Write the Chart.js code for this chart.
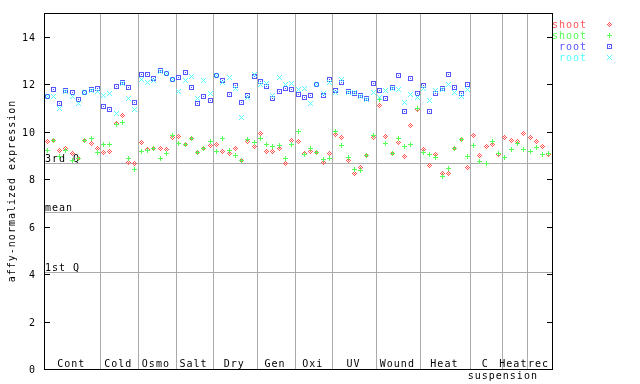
<!DOCTYPE html>
<html>
<head>
<meta charset="utf-8">
<script src="https://cdn.jsdelivr.net/npm/chart.js@4"></script>
<style>
  html, body { margin: 0; padding: 0; background: #fff; }
</style>
</head>
<body>
<canvas id="chart" width="640" height="384"></canvas>
<script>
// Groups along the x axis and how many samples each one holds
const groups     = ['Cont', 'Cold', 'Osmo', 'Salt', 'Dry', 'Gen', 'Oxi', 'UV', 'Wound', 'Heat', 'C', 'Heat', 'rec'];
const groupSizes = [9, 6, 6, 6, 7, 6, 6, 7, 7, 8, 5, 4, 4];
const subLabel   = 'suspension';   // second line under "C"

const yTicks     = [0, 2, 4, 6, 8, 10, 12, 14];
const statValues = [8.68, 6.61, 4.08];
const statLabels = ['3rd Q', 'mean', '1st Q'];

const seriesNames  = ['shoot', 'shoot', 'root', 'root'];
const seriesColors = ['#ff5555', '#55ff55', '#5555ff', '#55ffff'];

const shootRed = [
  9.59, 9.64, 9.19, 9.30, 9.07, 8.86, 9.64, 9.51, 9.27,
  9.13, 9.17, 10.33, 10.69, 8.71, 8.67,
  9.55, 9.26, 9.30, 9.30, 9.26, 9.76,
  9.81, 9.47, 9.72, 9.13, 9.30, 9.43,
  9.47, 9.17, 9.09, 9.30, 8.79, 9.59, 9.39,
  9.93, 9.17, 9.17, 9.30, 8.67, 9.64,
  9.59, 9.09, 9.17, 9.13, 8.71, 9.09,
  9.89, 9.76, 8.79, 8.25, 8.50, 9.00, 9.76,
  11.11, 9.81, 9.09, 9.55, 8.96, 10.27, 10.95,
  9.26, 8.58, 9.05, 8.25, 8.25, 9.30, 9.68, 8.50,
  9.85, 9.00, 9.39, 9.47, 9.05,
  9.76, 9.64, 9.59, 9.93,
  9.76, 9.59, 9.39, 9.05
];
const shootGreen = [
  9.19, 9.64, 8.95, 9.20, 8.79, 8.86, 9.64, 9.73, 9.12,
  9.47, 9.47, 10.29, 10.40, 8.88, 8.41,
  9.17, 9.22, 9.30, 8.88, 9.09, 9.85,
  9.51, 9.47, 9.72, 9.13, 9.30, 9.59,
  9.17, 9.72, 9.22, 9.00, 8.79, 9.68, 9.55,
  9.72, 9.47, 9.39, 9.43, 8.88, 9.47,
  10.01, 9.05, 9.30, 9.13, 8.84, 8.88,
  10.01, 9.43, 8.92, 8.41, 8.37, 9.00, 9.85,
  11.37, 9.51, 9.09, 9.72, 9.39, 9.47, 10.99,
  9.13, 9.05, 8.92, 8.12, 8.46, 9.30, 9.68, 8.96,
  9.43, 8.75, 8.67, 9.59, 9.09,
  8.92, 9.26, 9.51, 9.26,
  9.17, 9.34, 9.05, 9.09
];
const rootBlue = [
  11.49, 11.79, 11.20, 11.74, 11.66, 11.37, 11.66, 11.79, 11.83,
  11.07, 10.94, 11.91, 12.08, 11.87, 11.24,
  12.42, 12.42, 12.25, 12.59, 12.46, 12.21,
  12.29, 12.50, 11.87, 11.20, 11.49, 11.32,
  12.37, 12.17, 11.58, 11.96, 11.24, 11.53, 12.33,
  12.12, 11.91, 11.41, 11.70, 11.83, 11.79,
  11.58, 11.45, 11.53, 12.00, 11.53, 12.21,
  11.74, 12.08, 11.70, 11.62, 11.53, 11.41, 12.04,
  11.74, 11.41, 11.87, 12.37, 10.86, 12.25, 11.62,
  11.96, 10.86, 11.62, 11.83, 12.42, 11.87, 11.62, 12.00,
  null, null, null, null, null,
  null, null, null, null,
  null, null, null, null
];
const rootCyan = [
  11.49, 11.49, 10.99, 11.70, 11.49, 11.20, 11.66, 11.74, 11.70,
  11.53, 11.62, 10.77, 12.04, 11.41, 10.94,
  12.21, 12.08, 12.17, 12.55, 12.46, 12.21,
  11.70, 12.17, 12.33, 11.41, 12.17, 11.62,
  12.37, 12.08, 12.29, 11.83, 10.61, 11.45, 12.42,
  12.00, 12.04, 11.53, 12.29, 12.00, 12.04,
  11.79, 11.83, 11.20, 12.00, 11.62, 12.08,
  11.66, 12.21, 11.66, 11.66, 11.49, 11.37, 11.66,
  11.45, 11.74, 11.83, 11.79, 11.24, 11.58, 11.45,
  11.83, 11.32, 11.74, 11.79, 12.00, 11.66, 11.49, 11.79,
  null, null, null, null, null,
  null, null, null, null,
  null, null, null, null
];

// little pixel markers like the original bitmap plot
function marker(rows, color) {
  const c = document.createElement('canvas');
  c.width = rows[0].length;
  c.height = rows.length;
  const g = c.getContext('2d');
  g.fillStyle = color;
  rows.forEach((r, y) => [...r].forEach((ch, x) => { if (ch === '#') g.fillRect(x, y, 1, 1); }));
  return c;
}
const markers = [
  marker(['..#..', '.#.#.', '#.#.#', '.#.#.', '..#..'], seriesColors[0]),
  marker(['..#..', '..#..', '#####', '..#..', '..#..'], seriesColors[1]),
  marker(['#####', '#...#', '#.#.#', '#...#', '#####'], seriesColors[2]),
  marker(['#...#', '.#.#.', '..#..', '.#.#.', '#...#'], seriesColors[3])
];

const nPoints = shootRed.length;
const toPoints = arr => arr.map((v, i) => ({ x: i, y: v })).filter(p => p.y !== null);
const seriesData = [shootRed, shootGreen, rootBlue, rootCyan];

const FONT = '10px "DejaVu Sans Mono"';

const decor = {
  id: 'decor',
  beforeDatasetsDraw(chart) {
    const { ctx, chartArea: a, scales: { x, y } } = chart;
    ctx.imageSmoothingEnabled = false;
    ctx.save();
    // group separators
    ctx.fillStyle = '#aaaaaa';
    let cum = 0;
    groupSizes.forEach((n, k) => {
      cum += n;
      if (k === groupSizes.length - 1) return;
      const px = Math.round(x.getPixelForValue(cum - 0.5));
      ctx.fillRect(px, a.top, 1, a.bottom - a.top);
    });
    // quartile / mean lines
    statValues.forEach(v => {
      const py = Math.round(y.getPixelForValue(v));
      ctx.fillRect(a.left, py, a.right - a.left, 1);
    });
    ctx.fillStyle = '#000';
    ctx.font = FONT;
    ctx.letterSpacing = '1px';
    ctx.textAlign = 'left';
    ctx.textBaseline = 'alphabetic';
    statValues.forEach((v, k) => {
      const py = Math.round(y.getPixelForValue(v));
      ctx.fillText(statLabels[k], a.left + 1, py - 1);
    });
    ctx.restore();
  },
  afterDatasetsDraw(chart) {
    const { ctx, chartArea: a, scales: { x, y } } = chart;
    ctx.save();
    // frame
    ctx.fillStyle = '#000';
    ctx.fillRect(a.left, a.top, a.right - a.left + 1, 1);
    ctx.fillRect(a.left, a.bottom, a.right - a.left + 1, 1);
    ctx.fillRect(a.left, a.top, 1, a.bottom - a.top + 1);
    ctx.fillRect(a.right, a.top, 1, a.bottom - a.top + 1);

    // y ticks (pointing inwards) and labels
    ctx.font = FONT;
    ctx.letterSpacing = '1px';
    ctx.textAlign = 'right';
    ctx.textBaseline = 'middle';
    yTicks.forEach(v => {
      const py = Math.round(y.getPixelForValue(v));
      ctx.fillRect(a.left, py, 6, 1);
      ctx.fillRect(a.right - 5, py, 6, 1);
      ctx.fillText(String(v), a.left - 8, py + 1);
    });

    // group labels
    ctx.textAlign = 'center';
    ctx.textBaseline = 'alphabetic';
    let start = 0;
    groups.forEach((g, k) => {
      const n = groupSizes[k];
      const cx = x.getPixelForValue(start + n / 2 - 0.5);
      ctx.fillText(g, cx - 1, a.bottom - 2);
      if (g === 'C') {
        ctx.fillText(subLabel, x.getPixelForValue(start + n - 0.5) + 1, a.bottom + 10);
      }
      start += n;
    });

    // y title
    ctx.save();
    ctx.translate(12, (a.top + a.bottom) / 2);
    ctx.rotate(-Math.PI / 2);
    ctx.textAlign = 'center';
    ctx.textBaseline = 'middle';
    ctx.fillText('affy-normalized expression', 0, 0);
    ctx.restore();

    // legend
    ctx.textAlign = 'right';
    ctx.textBaseline = 'alphabetic';
    seriesNames.forEach((name, k) => {
      const cy = 23.5 + k * 11;
      ctx.fillStyle = seriesColors[k];
      ctx.fillText(name, 587, cy + 4);
      const m = markers[k];
      ctx.drawImage(m, 607, Math.round(cy) - 2);
    });
    ctx.restore();
  }
};

new Chart(document.getElementById('chart'), {
  type: 'scatter',
  data: {
    datasets: seriesData.map((arr, k) => ({
      label: seriesNames[k],
      data: toPoints(arr),
      pointStyle: markers[k],
      pointRadius: 3,
      pointHoverRadius: 3,
      borderColor: seriesColors[k],
      backgroundColor: seriesColors[k],
      showLine: false,
      order: 3 - k
    }))
  },
  options: {
    responsive: false,
    animation: false,
    devicePixelRatio: 1,
    layout: { padding: { left: 44, top: 13, right: 88, bottom: 15 } },
    plugins: { legend: { display: false }, tooltip: { enabled: false } },
    scales: {
      x: { type: 'linear', min: -0.5, max: nPoints - 0.5, display: false },
      y: { type: 'linear', min: 0, max: 15, display: false }
    }
  },
  plugins: [decor]
});
</script>
</body>
</html>
